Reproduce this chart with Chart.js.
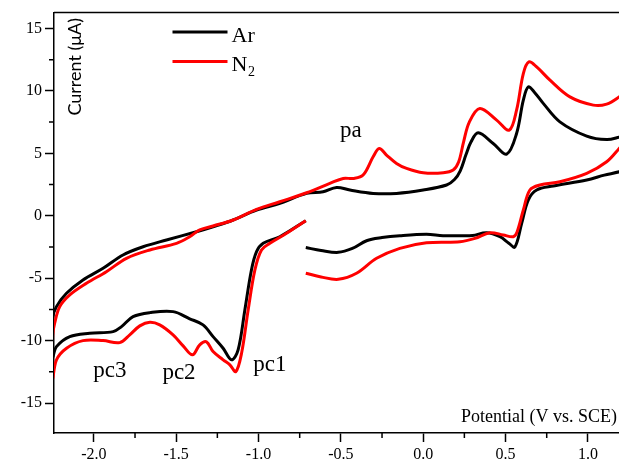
<!DOCTYPE html>
<html>
<head>
<meta charset="utf-8">
<script src="https://cdn.jsdelivr.net/npm/chart.js@4"></script>
<style>
  body { margin: 0; background: #fff; }
</style>
</head>
<body>
<canvas id="cvChart" width="619" height="463"></canvas>
<script>
// cyclic voltammograms, potential in V vs. SCE, current in uA
const seriesLabels = ["Ar", "N2"];
const seriesColors = ["#000000", "#ff0000"];

const arPotential = [
  -0.713, -0.62, -0.516, -0.43, -0.344, -0.25, -0.142, 0.02, 0.12, 0.22, 0.30, 0.385, 0.466, 0.52, 0.557,
  0.598, 0.638, 0.689, 0.79, 0.993, 1.10, 1.19, 1.22,
  1.22, 1.19, 1.114, 0.993, 0.83, 0.729, 0.675, 0.638, 0.608, 0.567, 0.507, 0.425, 0.334, 0.29, 0.26,
  0.225, 0.19, 0.142, 0.0, -0.162, -0.304, -0.445, -0.526, -0.608, -0.708, -0.87, -1.012, -1.154, -1.276,
  -1.377, -1.559, -1.701, -1.823, -1.944, -2.066, -2.166, -2.227, -2.25,
  -2.25, -2.227, -2.146, -2.025, -1.883, -1.832, -1.762, -1.66, -1.519, -1.418, -1.337, -1.276, -1.215,
  -1.164, -1.124, -1.083, -1.043, -1.012, -0.972, -0.871, -0.713
];
const arCurrent = [
  -2.55, -2.78, -2.93, -2.62, -2.0, -1.75, -1.6, -1.49, -1.6, -1.6, -1.58, -1.36, -1.68, -2.2, -2.5,
  -0.61, 1.26, 2.06, 2.38, 2.86, 3.25, 3.52, 3.7,
  6.45, 6.3, 6.1, 6.38, 7.52, 9.0, 9.9, 10.32, 9.26, 6.59, 4.94, 5.79, 6.64, 5.9, 4.9,
  3.6, 2.9, 2.46, 2.06, 1.79, 1.79, 2.06, 2.27, 1.92, 1.79, 0.99, 0.46, -0.34, -0.88,
  -1.28, -1.94, -2.48, -3.14, -4.21, -5.14, -6.21, -7.28, -8.2,
  -11.3, -10.48, -9.68, -9.41, -9.28, -8.88, -8.08, -7.76, -7.68, -8.25, -8.74, -9.68, -10.61,
  -11.54, -10.74, -7.54, -4.34, -2.88, -2.21, -1.68, -0.4
];

const n2Potential = [
  -0.713, -0.62, -0.516, -0.405, -0.283, -0.142, 0.02, 0.223, 0.314, 0.405, 0.486, 0.547, 0.57,
  0.608, 0.648, 0.709, 0.83, 0.993, 1.114, 1.19, 1.22,
  1.22, 1.19, 1.114, 1.033, 0.891, 0.77, 0.689, 0.642, 0.608, 0.567, 0.523, 0.446, 0.344, 0.28, 0.245,
  0.215, 0.182, 0.122, 0.0, -0.101, -0.162, -0.223, -0.267, -0.304, -0.365, -0.425, -0.486, -0.567,
  -0.708, -0.871, -1.012, -1.154, -1.276, -1.357, -1.418, -1.498, -1.66, -1.802, -1.924, -2.045,
  -2.146, -2.207, -2.238, -2.25,
  -2.25, -2.227, -2.166, -2.066, -1.944, -1.843, -1.782, -1.721, -1.66, -1.6, -1.519, -1.458, -1.401,
  -1.357, -1.316, -1.276, -1.215, -1.174, -1.138, -1.103, -1.063, -1.022, -0.982, -0.931, -0.83, -0.713
];
const n2Current = [
  -4.6, -4.9, -5.09, -4.61, -3.41, -2.61, -2.16, -2.08, -1.81, -1.36, -1.54, -1.68, -1.3,
  0.46, 2.06, 2.46, 2.72, 3.39, 4.32, 5.39, 5.9,
  9.9, 9.52, 8.94, 8.86, 9.52, 10.86, 11.92, 12.32, 11.39, 8.46, 6.86, 7.66, 8.59, 7.5, 5.9,
  4.3, 3.66, 3.44, 3.44, 3.79, 4.19, 4.86, 5.39, 4.72, 3.26, 2.99, 2.99, 2.59,
  1.84, 1.12, 0.51, -0.34, -0.82, -1.14, -1.68, -2.21, -2.74, -3.41, -4.48, -5.41,
  -6.34, -7.28, -8.61, -9.6,
  -13.0, -11.54, -10.61, -10.0, -10.0, -10.16, -9.54, -8.82, -8.53, -8.74, -9.54, -10.42, -11.14,
  -10.34, -10.1, -10.88, -11.54, -11.94, -12.48, -11.01, -7.54, -4.34, -2.74, -2.21, -1.41, -0.4
];

const xTicks = [-2.0, -1.5, -1.0, -0.5, 0.0, 0.5, 1.0];
const xMinorTicks = [-1.75, -1.25, -0.75, -0.25, 0.25, 0.75];
const yTicks = [-15, -10, -5, 0, 5, 10, 15];
const yMinorTicks = [-12.5, -7.5, -2.5, 2.5, 7.5, 12.5];

// peak labels anchored at (potential, current)
const peakNames = ["pa", "pc3", "pc2", "pc1"];
const peakPotential = [-0.439, -1.903, -1.483, -0.931];
const peakCurrent = [6.27, -12.88, -13.09, -12.42];

function toPoints(xs, ys) {
  return xs.map((v, i) => ({ x: v, y: ys[i] }));
}

const serif = "'Liberation Serif', 'Times New Roman', serif";

// legend, axis captions, peak labels, minor ticks and frame top
const extrasPlugin = {
  id: "extras",
  afterDraw(chart) {
    const ctx = chart.ctx;
    const area = chart.chartArea;
    const xs = chart.scales.x, ys = chart.scales.y;
    ctx.save();
    ctx.strokeStyle = "#000";
    ctx.lineWidth = 1.5;
    ctx.beginPath();
    ctx.moveTo(area.left, area.top);
    ctx.lineTo(area.right, area.top);
    xMinorTicks.forEach((v) => {
      const px = xs.getPixelForValue(v);
      ctx.moveTo(px, area.bottom);
      ctx.lineTo(px, area.bottom + 5);
    });
    yMinorTicks.forEach((v) => {
      const py = ys.getPixelForValue(v);
      ctx.moveTo(area.left, py);
      ctx.lineTo(area.left - 5, py);
    });
    ctx.stroke();

    // legend
    chart.data.datasets.forEach((ds, i) => {
      const y = area.top + 19.5 + i * 29.3;
      ctx.strokeStyle = ds.borderColor;
      ctx.lineWidth = 3;
      ctx.beginPath();
      ctx.moveTo(area.left + 118.5, y);
      ctx.lineTo(area.left + 173.5, y);
      ctx.stroke();
      ctx.fillStyle = "#000";
      ctx.textBaseline = "alphabetic";
      ctx.textAlign = "left";
      const name = ds.label;
      const m = name.match(/^(\D+)(\d*)$/);
      ctx.font = "22px " + serif;
      ctx.fillText(m[1], area.left + 177.5, y + 10);
      if (m[2]) {
        const w = ctx.measureText(m[1]).width;
        ctx.font = "14px " + serif;
        ctx.fillText(m[2], area.left + 178 + w, y + 15);
      }
    });

    // axis captions inside the frame
    ctx.fillStyle = "#000";
    ctx.font = "18px " + serif;
    ctx.textAlign = "right";
    ctx.textBaseline = "alphabetic";
    ctx.fillText("Potential (V vs. SCE)", area.right - 2, area.bottom - 11);

    ctx.save();
    ctx.translate(area.left + 21.5, area.top + 103);
    ctx.rotate(-Math.PI / 2);
    ctx.font = "18px Lato, 'Liberation Sans', sans-serif";
    ctx.textAlign = "left";
    ctx.textBaseline = "middle";
    ctx.fillText("Current (\u03bcA)", 0, 0);
    ctx.restore();

    // peak labels
    ctx.font = "23px " + serif;
    ctx.textAlign = "center";
    ctx.textBaseline = "alphabetic";
    peakNames.forEach((t, i) => {
      ctx.fillText(t, xs.getPixelForValue(peakPotential[i]), ys.getPixelForValue(peakCurrent[i]));
    });
    ctx.restore();
  }
};

const ctx = document.getElementById("cvChart");
const cvChart = new Chart(ctx, {
  type: "scatter",
  data: {
    datasets: [
      {
        label: seriesLabels[0],
        data: toPoints(arPotential, arCurrent),
        borderColor: seriesColors[0],
        backgroundColor: seriesColors[0],
        order: 2
      },
      {
        label: seriesLabels[1],
        data: toPoints(n2Potential, n2Current),
        borderColor: seriesColors[1],
        backgroundColor: seriesColors[1],
        order: 1
      }
    ]
  },
  options: {
    responsive: false,
    animation: false,
    devicePixelRatio: 1,
    layout: { padding: { top: 12, right: 0, left: 0, bottom: 0 } },
    datasets: {
      scatter: {
        showLine: true,
        pointRadius: 0,
        borderWidth: 3,
        tension: 0.35,
        clip: 0
      }
    },
    plugins: {
      legend: { display: false },
      tooltip: { enabled: false }
    },
    scales: {
      x: {
        type: "linear",
        min: -2.242,
        max: 1.189,
        afterBuildTicks: (scale) => { scale.ticks = xTicks.map((v) => ({ value: v })); },
        afterFit: (scale) => { scale.height = 30; },
        grid: { drawOnChartArea: false, tickLength: 9, tickColor: "#000", tickWidth: 1.5 },
        border: { color: "#000", width: 1.5 },
        ticks: {
          color: "#000",
          padding: 3,
          maxRotation: 0,
          font: { family: serif, size: 16 },
          callback: (v) => Number(v).toFixed(1)
        }
      },
      y: {
        type: "linear",
        min: -17.4,
        max: 16.27,
        afterBuildTicks: (scale) => { scale.ticks = yTicks.map((v) => ({ value: v })); },
        afterFit: (scale) => { scale.width = 54; },
        grid: { drawOnChartArea: false, tickLength: 9, tickColor: "#000", tickWidth: 1.5 },
        border: { color: "#000", width: 1.5 },
        ticks: {
          color: "#000",
          padding: 3,
          font: { family: serif, size: 16 },
          callback: (v) => String(v)
        }
      }
    }
  },
  plugins: [extrasPlugin]
});
</script>
</body>
</html>
